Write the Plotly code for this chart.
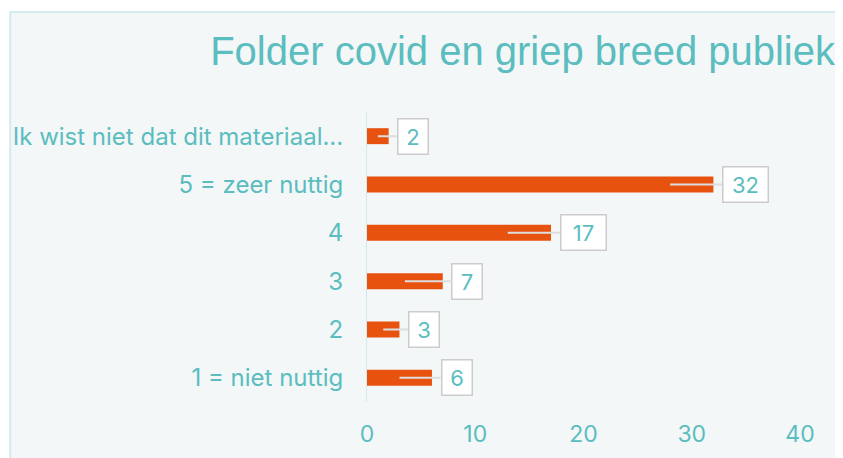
import plotly.graph_objects as go

categories = ["Ik wist niet dat dit materiaal...", "5 = zeer nuttig", "4", "3", "2", "1 = niet nuttig"]
values = [2, 32, 17, 7, 3, 6]
x_ticks = [0, 10, 20, 30, 40]
title_text = "Folder covid en griep breed publiek"

TEAL = "#5bbdbf"
BAR = "#e8520f"
PANEL = "#f3f7f7"

# page body has an 8px margin; figure is sized so page fits 843x458
W, H, OFF = 835, 450, 8

fig = go.Figure()
fig.add_trace(go.Bar(
    x=values, y=list(range(len(categories))), orientation="h",
    marker=dict(color=BAR, line=dict(width=0)),
    hoverinfo="skip",
))

# panel background
fig.add_shape(type="rect", xref="paper", yref="paper",
              x0=-0.824, x1=2.0, y0=-1.0, y1=1.345,
              fillcolor=PANEL, line=dict(color="#d4ecec", width=2), layer="below")

for i, v in enumerate(values):
    tip = max(v - 4, v * 0.5)
    fig.add_annotation(
        x=tip, y=i, xref="x", yref="y",
        ax=v + 0.8, ay=i, axref="x", ayref="y",
        xanchor="left", yanchor="middle",
        text=str(v), showarrow=True, arrowhead=0, arrowwidth=2, arrowcolor="#dedede",
        font=dict(family="Inter", size=22, color=TEAL),
        bgcolor="white", bordercolor="#cccccc", borderwidth=1.5, borderpad=4,
        width=15 * len(str(v)) + 6, height=26,
    )

fig.update_layout(
    width=W, height=H,
    margin=dict(l=367 - OFF, r=43, t=112 - OFF, b=56, autoexpand=False),
    paper_bgcolor="white", plot_bgcolor="rgba(0,0,0,0)",
    showlegend=False, bargap=0.67,
    title=dict(text=title_text, xref="container", yref="container",
               x=(835 - OFF) / W, xanchor="right", y=1 - (51 - OFF) / H, yanchor="middle",
               font=dict(family="Liberation Sans", size=40, color=TEAL), automargin=False),
    xaxis=dict(range=[0, 40], tickvals=x_ticks, showgrid=False, zeroline=False, automargin=False,
               showline=False, ticks="outside", ticklen=11, tickcolor="rgba(0,0,0,0)",
               tickfont=dict(family="Inter", size=23, color=TEAL), fixedrange=True),
    yaxis=dict(tickvals=list(range(len(categories))), ticktext=categories,
               range=[len(categories) - 0.5, -0.5], automargin=False,
               showgrid=False, zeroline=False, showline=True, linecolor="#d0eaea", linewidth=1,
               ticks="outside", ticklen=18, tickcolor="rgba(0,0,0,0)",
               tickfont=dict(family="Inter", size=24, color=TEAL), fixedrange=True),
    font=dict(family="Inter", color=TEAL),
)

fig.write_html("out.html")
